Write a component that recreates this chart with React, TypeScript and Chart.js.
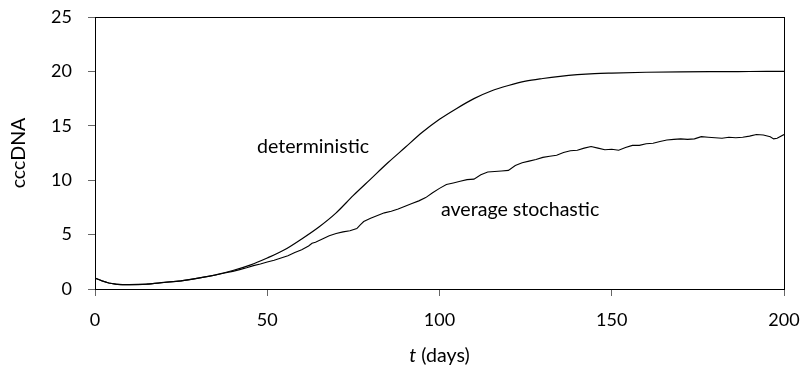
import React, { useEffect, useRef } from "react";
import { Chart, registerables } from "chart.js";

Chart.register(...registerables);

// deterministic model
const detT = [0, 2, 4, 6, 8, 10, 15, 20, 25, 30, 35, 40, 45, 50, 55, 60, 65, 70, 75, 80, 85, 90, 95, 100, 105, 110, 115, 120, 125, 130, 135, 140, 145, 150, 160, 170, 180, 190, 200];
const detV = [1.0, 0.75, 0.55, 0.45, 0.4, 0.4, 0.45, 0.6, 0.75, 1.0, 1.3, 1.7, 2.2, 2.85, 3.6, 4.6, 5.7, 7.0, 8.6, 10.1, 11.6, 13.0, 14.4, 15.6, 16.6, 17.5, 18.2, 18.7, 19.1, 19.35, 19.55, 19.7, 19.8, 19.85, 19.92, 19.96, 19.98, 19.99, 20.0];

// average stochastic
const stoT = [0, 2, 4, 6, 8, 10, 15, 20, 25, 30, 35, 38, 40, 42, 44, 46, 48, 50, 52, 54, 56, 58, 60, 62, 63, 64, 66, 68, 70, 72, 74, 76, 77, 78, 80, 82, 84, 86, 88, 90, 92, 94, 96, 98, 100, 102, 104, 106, 108, 110, 112, 114, 116, 118, 120, 122, 124, 126, 128, 130, 132, 134, 136, 138, 140, 142, 144, 146, 148, 150, 152, 154, 156, 158, 160, 162, 164, 166, 168, 170, 172, 174, 176, 178, 180, 182, 184, 186, 188, 190, 192, 194, 196, 197, 198, 200];
const stoV = [1.0, 0.75, 0.55, 0.45, 0.4, 0.4, 0.45, 0.6, 0.75, 1.0, 1.28, 1.5, 1.62, 1.78, 1.95, 2.15, 2.3, 2.48, 2.65, 2.85, 3.05, 3.35, 3.6, 3.95, 4.2, 4.3, 4.6, 4.9, 5.1, 5.25, 5.35, 5.55, 5.9, 6.2, 6.5, 6.75, 7.0, 7.15, 7.35, 7.6, 7.85, 8.1, 8.4, 8.85, 9.25, 9.6, 9.75, 9.9, 10.05, 10.1, 10.5, 10.75, 10.8, 10.85, 10.9, 11.35, 11.6, 11.75, 11.9, 12.1, 12.2, 12.3, 12.55, 12.7, 12.75, 12.95, 13.1, 12.95, 12.8, 12.85, 12.75, 13.0, 13.2, 13.2, 13.35, 13.4, 13.55, 13.7, 13.75, 13.8, 13.75, 13.8, 14.0, 13.95, 13.9, 13.85, 13.95, 13.9, 13.95, 14.05, 14.2, 14.15, 14.0, 13.8, 13.85, 14.2];

const labelTexts = ["deterministic", "average stochastic"];
const labelT = [63.3, 123.4];
const labelV = [13.05, 7.26];

const xTitleItalic = "t";
const xTitleRest = " (days)";
const yTitle = "cccDNA";

const FONT = "Lato";
const FS = 18;
const FS_TEXT = 19.6;

export default function App() {
  const ref = useRef<HTMLCanvasElement>(null);
  useEffect(() => {
    const canvas = ref.current!;
    const annot = {
      id: "annot",
      afterDraw(chart: any) {
        const { ctx, chartArea, scales } = chart;
        ctx.save();
        ctx.strokeStyle = "#000";
        ctx.lineWidth = 1;
        ctx.strokeRect(Math.round(chartArea.left) + 0.5, Math.round(chartArea.top) + 0.5, Math.round(chartArea.right - chartArea.left), Math.round(chartArea.bottom - chartArea.top));
        ctx.fillStyle = "#000";
        ctx.font = `${FS_TEXT}px ${FONT}`;
        ctx.textAlign = "center";
        ctx.textBaseline = "middle";
        for (let i = 0; i < labelTexts.length; i++) {
          ctx.fillText(labelTexts[i], scales.x.getPixelForValue(labelT[i]), scales.y.getPixelForValue(labelV[i]));
        }
        // x title
        const cx = (chartArea.left + chartArea.right) / 2;
        const cy = 356;
        ctx.font = `italic ${FS_TEXT}px ${FONT}`;
        const w1 = ctx.measureText(xTitleItalic).width;
        ctx.font = `${FS_TEXT}px ${FONT}`;
        const w2 = ctx.measureText(xTitleRest).width;
        const x0 = cx - (w1 + w2) / 2;
        ctx.textAlign = "left";
        ctx.font = `italic ${FS_TEXT}px ${FONT}`;
        ctx.fillText(xTitleItalic, x0, cy);
        ctx.font = `${FS_TEXT}px ${FONT}`;
        ctx.fillText(xTitleRest, x0 + w1, cy);
        ctx.restore();
      },
    };
    const chart = new Chart(canvas, {
      type: "line",
      data: {
        datasets: [
          {
            label: "deterministic",
            data: detT.map((t, i) => ({ x: t, y: detV[i] })),
            borderColor: "#000",
            borderWidth: 1.2,
            pointRadius: 0,
            cubicInterpolationMode: "monotone",
            fill: false,
          },
          {
            label: "average stochastic",
            data: stoT.map((t, i) => ({ x: t, y: stoV[i] })),
            borderColor: "#000",
            borderWidth: 1.1,
            pointRadius: 0,
            tension: 0,
            fill: false,
          },
        ],
      },
      plugins: [annot],
      options: {
        animation: false,
        responsive: false,
        events: [],
        layout: { padding: { top: 17, right: 18, left: 0, bottom: 0 } },
        plugins: { legend: { display: false }, tooltip: { enabled: false } },
        scales: {
          x: {
            type: "linear",
            min: 0,
            max: 200,
            afterFit: (s: any) => { s.height = 80; s.paddingLeft = 0; s.paddingRight = 0; },
            ticks: { stepSize: 50, color: "#000", font: { family: FONT, size: FS }, padding: 13, maxRotation: 0 },
            grid: { drawOnChartArea: false, drawTicks: true, tickLength: 7, color: "#666" },
            border: { display: true, color: "#000", width: 1 },
          },
          y: {
            type: "linear",
            min: 0,
            max: 25,
            afterFit: (s: any) => { s.width = 95; s.paddingTop = 0; s.paddingBottom = 0; },
            ticks: { stepSize: 5, color: "#000", font: { family: FONT, size: FS }, padding: 16 },
            grid: { drawOnChartArea: false, drawTicks: true, tickLength: 7, color: "#666" },
            border: { display: true, color: "#000", width: 1 },
            title: { display: true, text: yTitle, color: "#000", font: { family: FONT, size: FS_TEXT }, padding: { top: 7, bottom: 0 } },
          },
        },
      },
    } as any);
    return () => chart.destroy();
  }, []);
  return (
    <div style={{ position: "absolute", left: 0, top: 0, width: 802, height: 369, background: "#fff" }}>
      <canvas ref={ref} width={802} height={369} />
    </div>
  );
}
